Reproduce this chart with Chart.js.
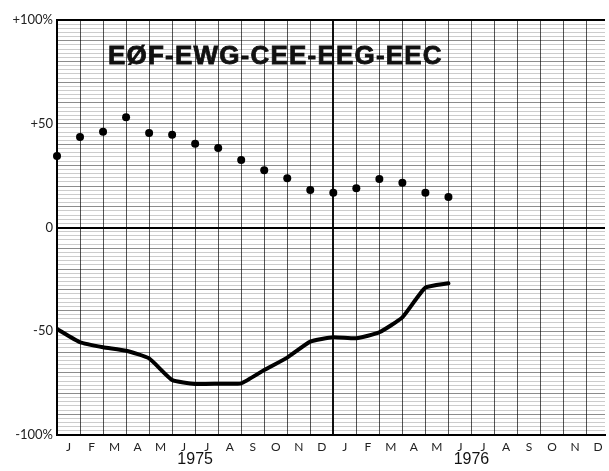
<!DOCTYPE html>
<html>
<head>
<meta charset="utf-8">
<script src="https://cdn.jsdelivr.net/npm/chart.js@4"></script>
<style>
  html, body { margin: 0; padding: 0; background: #fff; }
  #wrap { width: 609px; height: 471px; }
</style>
</head>
<body>
<div id="wrap"><canvas id="chart"></canvas></div>
<script>
// month letters for Jan 1975 .. Dec 1976
const monthLetters = ["J","F","M","A","M","J","J","A","S","O","N","D",
                      "J","F","M","A","M","J","J","A","S","O","N","D"];
const years = ["1975", "1976"];
// dots, one per month boundary, Jan 1975 .. Jun 1976 (%)
const dotValues = [34.5, 43.6, 46.2, 53.1, 45.5, 44.7, 40.4, 38.3, 32.5, 27.6,
                   23.7, 18.1, 16.8, 18.9, 23.4, 21.6, 16.8, 14.7];
// thick line (%)
const lineValues = [-48.9, -55.3, -57.7, -59.4, -63.1, -73.5, -75.4, -75.3, -75.1,
                    -68.7, -62.7, -55.0, -52.9, -53.4, -50.5, -43.3, -29.0, -26.9];
const yLabels = { "100": "+100%", "50": "+50", "0": "0", "-50": "-50", "-100": "-100%" };
const title = "EØF-EWG-CEE-EEG-EEC";

const extras = {
  id: "extras",
  afterDraw(chart) {
    const ctx = chart.ctx;
    const x = chart.scales.x;
    ctx.save();
    ctx.fillStyle = "#111";
    ctx.strokeStyle = "#111";
    ctx.lineWidth = 0.8;
    ctx.font = "bold 26px 'Liberation Sans', Arial, sans-serif";
    if ("letterSpacing" in ctx) ctx.letterSpacing = "1.2px";
    ctx.textBaseline = "alphabetic";
    ctx.textAlign = "left";
    ctx.fillText(title, 108, 64);
    ctx.strokeText(title, 108, 64);
    if ("letterSpacing" in ctx) ctx.letterSpacing = "0px";
    ctx.font = "16px 'Liberation Sans', Arial, sans-serif";
    ctx.textAlign = "center";
    ctx.textBaseline = "middle";
    years.forEach((y, i) => ctx.fillText(y, x.getPixelForValue(6 + i * 12), 460));
    ctx.restore();
  }
};

new Chart(document.getElementById("chart"), {
  type: "line",
  data: {
    datasets: [
      {
        data: lineValues.map((v, i) => ({ x: i, y: v })),
        borderColor: "#000",
        borderWidth: 4,
        pointRadius: 0,
        tension: 0.15,
        borderCapStyle: "round",
        borderJoinStyle: "round"
      },
      {
        data: dotValues.map((v, i) => ({ x: i, y: v })),
        showLine: false,
        pointRadius: 4,
        pointBackgroundColor: "#000",
        pointBorderWidth: 0,
        clip: false
      }
    ]
  },
  options: {
    responsive: true,
    maintainAspectRatio: false,
    animation: false,
    layout: { padding: { top: 20, right: 0, left: 0, bottom: 0 } },
    plugins: { legend: { display: false }, tooltip: { enabled: false } },
    scales: {
      x: {
        type: "linear",
        min: 0,
        max: 23.8,
        afterBuildTicks(scale) {
          const t = [];
          for (let k = 0; k < 48; k++) t.push({ value: k / 2 });
          scale.ticks = t;
        },
        afterFit(scale) { scale.height = 36; },
        border: { display: true, color: "#000", width: 2 },
        grid: {
          drawTicks: false,
          color: c => {
            const v = c.tick ? c.tick.value : 0;
            if (v % 1 !== 0) return "rgba(0,0,0,0)";
            return v === 12 ? "#111" : "#555";
          },
          lineWidth: c => (c.tick && c.tick.value === 12 ? 2 : 1)
        },
        ticks: {
          autoSkip: false,
          maxRotation: 0,
          padding: 5,
          color: "#222",
          font: { family: "Lato, 'DejaVu Sans', sans-serif", size: 12 },
          callback: v => (v % 1 !== 0 ? monthLetters[Math.floor(v)] : "")
        }
      },
      y: {
        min: -100,
        max: 100,
        afterBuildTicks(scale) {
          const t = [];
          for (let v = -100; v <= 100; v += 2) t.push({ value: v });
          scale.ticks = t;
        },
        afterFit(scale) { scale.width = 57; },
        border: { display: true, color: "#000", width: 2 },
        grid: {
          drawTicks: false,
          // translucent so the vertical month lines stay solid where they cross
          color: c => {
            const v = c.tick ? c.tick.value : 1;
            if (v === 0 || v === 100) return "#000";
            if (v % 10 === 0) return "rgba(0,0,0,0.45)";
            return "rgba(0,0,0,0.2)";
          },
          lineWidth: c => {
            const v = c.tick ? c.tick.value : 1;
            if (v === 0 || v === 100) return 2;
            return 1;
          }
        },
        ticks: {
          autoSkip: false,
          padding: 4,
          color: "#222",
          font: { family: "Lato, 'DejaVu Sans', sans-serif", size: 13 },
          callback: v => yLabels[String(v)] || ""
        }
      }
    }
  },
  plugins: [extras]
});
</script>
</body>
</html>
